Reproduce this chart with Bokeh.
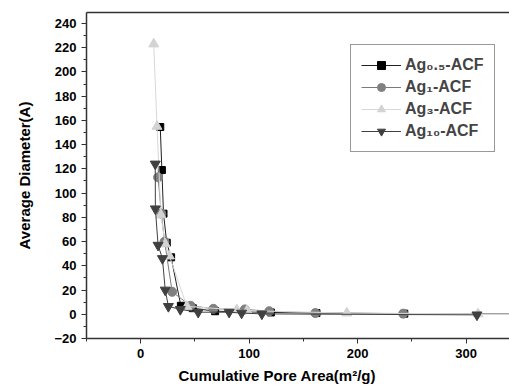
from bokeh.plotting import figure
from bokeh.models import LinearAxis, Range1d, Legend, LegendItem, FixedTicker, Title
from bokeh.embed import file_html
from bokeh.resources import INLINE

# Data
x_ag05 = [18, 19.5, 21, 24, 28, 37, 48, 68.6, 120, 162, 243]
y_ag05 = [154.5, 119, 83, 59, 47, 7, 5, 2.5, 1.5, 1.0, 0.5]

x_ag1 = [16, 19, 22, 29, 46, 67, 96, 118.5, 161, 242, 380]
y_ag1 = [113, 83, 60, 18.5, 7, 4.5, 4, 2.5, 1.0, 0.5, 0.3]

x_ag3 = [12, 15, 18.6, 22.6, 26.5, 42.5, 88.6, 98, 190, 311]
y_ag3 = [223, 155, 82, 58, 48, 6.5, 3.6, 3, 1.0, 0.3]

x_ag10 = [13.4, 13.5, 16, 20, 22.6, 25.5, 36.5, 53, 81.5, 93, 111.7, 310]
y_ag10 = [124, 87, 57, 46, 20, 6.5, 4, 1.7, 1.7, 1.0, 0.3, -0.5]

x_ticks = [0, 100, 200, 300]
y_ticks = list(range(-20, 241, 20))

labels = ["Ag\u2080.\u2085-ACF", "Ag\u2081-ACF", "Ag\u2083-ACF", "Ag\u2081\u2080-ACF"]

p = figure(width=509, height=387, output_backend="svg", toolbar_location=None,
           x_range=Range1d(-50, 340), y_range=Range1d(-20, 249),
           min_border_left=86, min_border_right=0, min_border_top=12, min_border_bottom=0)
p.outline_line_color = None
p.grid.grid_line_color = None
p.background_fill_color = "white"

font = "Liberation Sans"

r1l = p.line(x_ag05, y_ag05, line_color="#202020", line_width=1)
r1m = p.scatter(x_ag05, y_ag05, marker="square", size=7, fill_color="black", line_color="black")
r2l = p.line(x_ag1, y_ag1, line_color="#7a7a7a", line_width=1)
r2m = p.scatter(x_ag1, y_ag1, marker="circle", size=9, fill_color="#808080", line_color="#808080")
r3l = p.line(x_ag3, y_ag3, line_color="#d8d8d8", line_width=1)
r3m = p.scatter(x_ag3, y_ag3, marker="triangle", size=10, fill_color="#d3d3d3", line_color="#d3d3d3")
r4l = p.line(x_ag10, y_ag10, line_color="#404040", line_width=1)
r4m = p.scatter(x_ag10, y_ag10, marker="inverted_triangle", size=10, fill_color="#404040", line_color="#404040")

for ax in (p.xaxis[0], p.yaxis[0]):
    ax.axis_line_color = "#333333"
    ax.axis_line_width = 1.5
    ax.major_tick_line_color = "#333333"
    ax.minor_tick_line_color = "#333333"
    ax.major_tick_out = 5
    ax.major_tick_in = 0
    ax.minor_tick_out = 3
    ax.minor_tick_in = 0
    ax.major_label_text_font = font
    ax.major_label_text_font_style = "bold"
    ax.major_label_text_font_size = "13px"
    ax.major_label_text_color = "black"
    ax.axis_label_text_font = font
    ax.axis_label_text_font_style = "bold"
    ax.axis_label_text_font_size = "15px"
    ax.axis_label_text_color = "black"

p.xaxis[0].ticker = FixedTicker(ticks=x_ticks, minor_ticks=[-50, 50, 150, 250])
p.yaxis[0].ticker = FixedTicker(ticks=y_ticks, minor_ticks=list(range(-10, 250, 20)))
p.yaxis[0].axis_label = "Average Diameter(A)"
p.yaxis[0].axis_label_standoff = 18

xtitle = Title(text="Cumulative Pore Area(m\u00b2/g)", align="left", offset=92,
               text_font=font, text_font_style="bold", text_font_size="15px",
               text_color="black", standoff=8)
p.add_layout(xtitle, "below")

top = LinearAxis(ticker=FixedTicker(ticks=[], minor_ticks=[]),
                 major_tick_line_color=None, minor_tick_line_color=None,
                 axis_line_color="#333333", axis_line_width=1.5)
p.add_layout(top, "above")

legend = Legend(items=[
    LegendItem(label=labels[0], renderers=[r1l, r1m]),
    LegendItem(label=labels[1], renderers=[r2l, r2m]),
    LegendItem(label=labels[2], renderers=[r3l, r3m]),
    LegendItem(label=labels[3], renderers=[r4l, r4m]),
], location=(264, 186))
legend.label_text_font = font
legend.label_text_font_style = "bold"
legend.label_text_font_size = "16px"
legend.border_line_color = "#333333"
legend.border_line_width = 1
legend.glyph_width = 40
legend.spacing = 2
legend.padding = 10
legend.label_standoff = 4
p.add_layout(legend)

open("out.html", "w").write(file_html(p, INLINE))
